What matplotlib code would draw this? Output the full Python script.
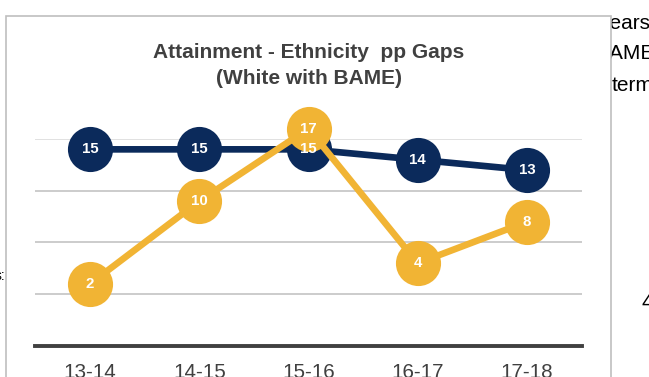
import numpy as np
import matplotlib.pyplot as plt
from matplotlib.patches import Rectangle

# Attainment gap (pp) between White and BAME students, per academic year
years = ["13-14", "14-15", "15-16", "16-17", "17-18"]
gap_navy = [15, 15, 15, 14, 13]
gap_gold = [2, 10, 17, 4, 8]

NAVY = "#0B2A5B"
GOLD = "#F1B434"
GREY_TXT = "#404040"

W, H = 649, 377
fig = plt.figure(figsize=(W / 100, H / 100), dpi=100)
plt.rcParams['font.family'] = ['Liberation Sans', 'DejaVu Sans']

def px(x, y):
    # pixel position (from top-left) -> figure fraction
    return x / W, 1 - y / H

# slide text peeking out around the chart box
fig.text(*px(599, 29), "years", fontsize=15, color="black", zorder=0)
fig.text(*px(595, 59), "BAME", fontsize=15, color="black", zorder=0)
fig.text(*px(612, 91), "term", fontsize=15, color="black", zorder=0)
fig.text(*px(641, 308), "4", fontsize=15, color="black", zorder=0)
fig.text(*px(5, 280), "s:", fontsize=10, color="black", ha="right", zorder=0)

# white chart box
box = Rectangle(px(6, 400), 605 / W, 384 / H, transform=fig.transFigure,
                facecolor="white", edgecolor="#BFBFBF", linewidth=1.2, zorder=1)
fig.patches.append(box)

# title
fig.text(*px(309, 58), "Attainment - Ethnicity  pp Gaps", fontsize=15,
         fontweight="bold", color=GREY_TXT, ha="center", va="baseline", zorder=3)
fig.text(*px(309, 84), "(White with BAME)", fontsize=15,
         fontweight="bold", color=GREY_TXT, ha="center", va="baseline", zorder=3)

ax = fig.add_axes([35.4 / W, 1 - 346 / H, 546.2 / W, 207 / H])
ax.set_zorder(2)
ax.patch.set_alpha(0)

x = np.arange(len(years))
ax.set_xlim(-0.5, len(years) - 0.5)
ax.set_ylim(-4, 16)

# gridlines
for g in [1, 6, 11]:
    ax.axhline(g, color="#BFBFBF", lw=1.1, zorder=1)
ax.axhline(16, color="#D9D9D9", lw=1.1, zorder=1)
ax.axhline(-4, color=GREY_TXT, lw=2.8, zorder=2, clip_on=False)

ax.plot(x, gap_navy, color=NAVY, lw=4.8, marker="o", markersize=32.5,
        markeredgewidth=0, zorder=3, clip_on=False, solid_capstyle="butt")
ax.plot(x, gap_gold, color=GOLD, lw=4.8, marker="o", markersize=32.5,
        markeredgewidth=0, zorder=4, clip_on=False, solid_capstyle="butt")

for xi, v in zip(x, gap_navy):
    ax.text(xi, v, str(v), ha="center", va="center", color="white",
            fontsize=10.8, fontweight="bold", zorder=6)
for xi, v in zip(x, gap_gold):
    ax.text(xi, v, str(v), ha="center", va="center", color="white",
            fontsize=10.8, fontweight="bold", zorder=6)

ax.set_xticks(x)
ax.set_xticklabels(years, fontsize=14.9, color=GREY_TXT)
ax.tick_params(axis="x", length=0, pad=12)
ax.set_yticks([])
for s in ax.spines.values():
    s.set_visible(False)

fig.savefig("out.png", dpi=100)
